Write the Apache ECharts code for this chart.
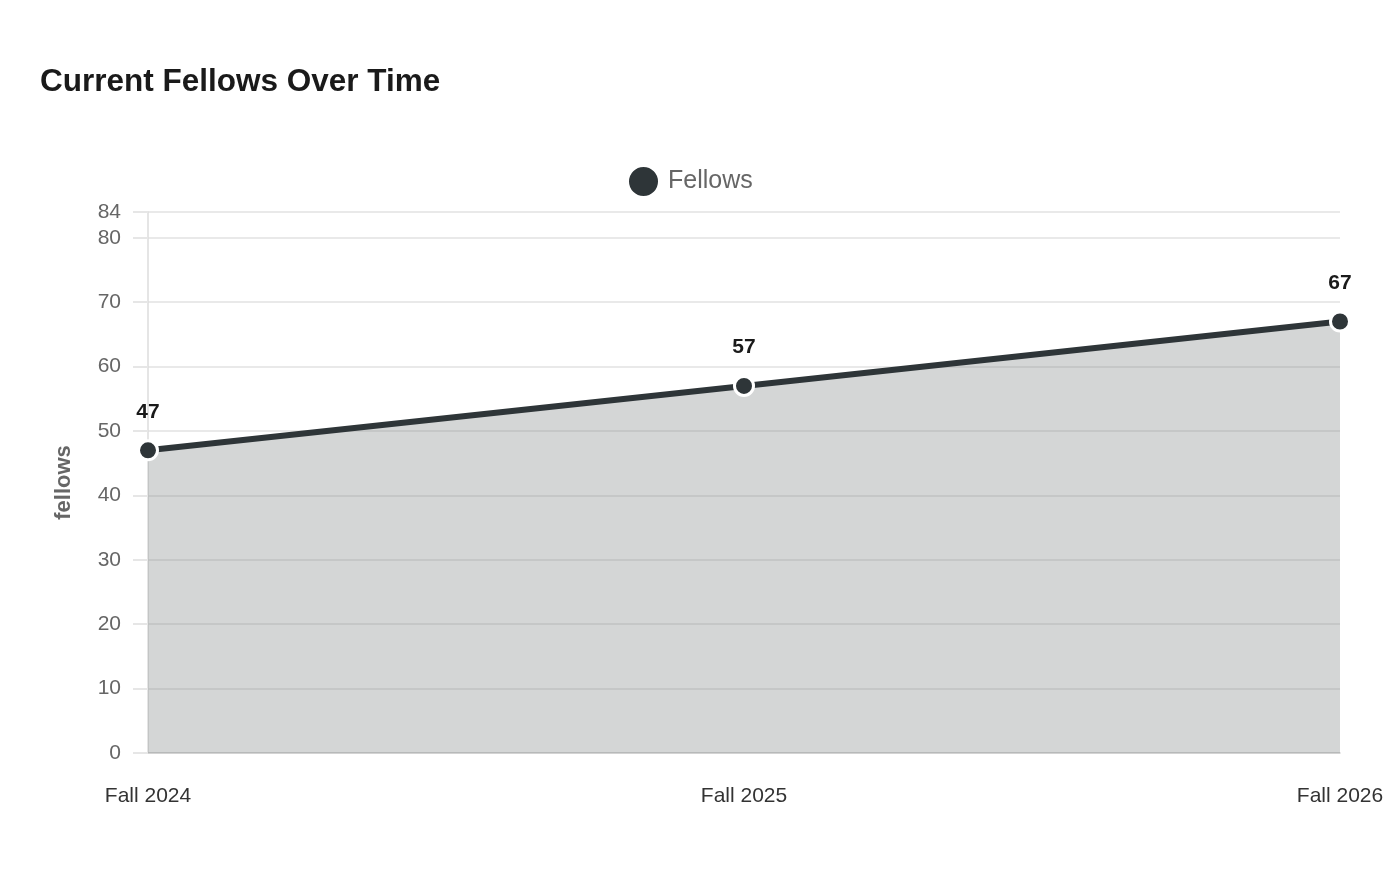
<!DOCTYPE html>
<html>
<head>
<meta charset="utf-8">
<script src="https://cdn.jsdelivr.net/npm/echarts@6/dist/echarts.min.js"></script>
<style>
html,body{margin:0;padding:0;background:#fff;}
#chart{width:1400px;height:880px;}
</style>
</head>
<body>
<div id="chart"></div>
<script>
const categories = ["Fall 2024", "Fall 2025", "Fall 2026"];
const fellows = [47, 57, 67];
const yMin = 0, yMax = 84, yInterval = 10;

const chart = echarts.init(document.getElementById('chart'));
chart.setOption({
  backgroundColor: '#ffffff',
  animation: false,
  title: {
    text: 'Current Fellows Over Time',
    left: 35, top: 61,
    textStyle: {fontFamily: 'Liberation Sans, Arial, sans-serif', fontSize: 31.5, fontWeight: 'bold', color: '#1a1a1a'}
  },
  legend: {
    top: 160,
    left: 622,
    icon: 'circle',
    itemWidth: 31, itemHeight: 31, itemGap: 10,
    textStyle: {fontFamily: 'Liberation Sans, Arial, sans-serif', fontSize: 25, color: '#666', padding: [0, 0, 0, 4]},
    data: ['Fellows']
  },
  grid: {left: 148, right: 60, top: 212, bottom: 127, containLabel: false},
  xAxis: {
    type: 'category',
    data: categories,
    boundaryGap: false,
    axisLine: {show: true, lineStyle: {color: '#cccccc', width: 1.5}},
    axisTick: {show: false},
    axisLabel: {fontFamily: 'Liberation Sans, Arial, sans-serif', fontSize: 21, color: '#333', margin: 33}
  },
  yAxis: {
    type: 'value',
    min: yMin, max: yMax, interval: yInterval,
    name: 'fellows',
    nameLocation: 'middle',
    nameGap: 73,
    nameTextStyle: {fontFamily: 'Liberation Sans, Arial, sans-serif', fontSize: 22, fontWeight: 'bold', color: '#666'},
    axisLine: {show: true, lineStyle: {color: '#dddddd', width: 1.5}},
    axisTick: {show: true, length: 15, lineStyle: {color: '#e6e6e6', width: 2}},
    axisLabel: {fontFamily: 'Liberation Sans, Arial, sans-serif', fontSize: 21, color: '#666', margin: 27},
    splitLine: {show: true, lineStyle: {color: '#e9e9e9', width: 2}}
  },
  series: [{
    name: 'Fellows',
    type: 'line',
    data: fellows,
    symbol: 'circle',
    symbolSize: 19,
    itemStyle: {color: '#2e3538', borderColor: '#ffffff', borderWidth: 3},
    lineStyle: {color: '#2e3538', width: 6},
    areaStyle: {color: 'rgba(130,136,136,0.34)', opacity: 1},
    label: {
      show: true, position: 'top', distance: 17,
      fontFamily: 'Liberation Sans, Arial, sans-serif', fontSize: 21, fontWeight: 'bold', color: '#1a1a1a'
    },
    z: 3
  }]
});
</script>
</body>
</html>
